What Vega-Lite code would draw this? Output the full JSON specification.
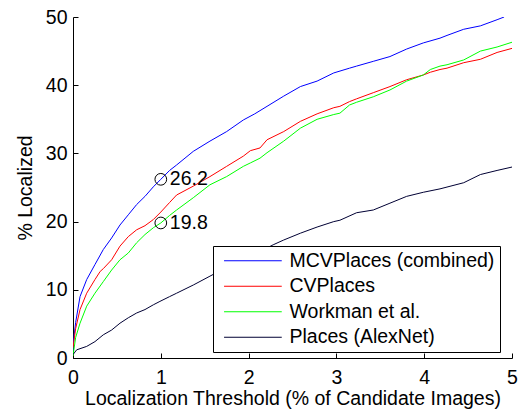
{
  "$schema": "https://vega.github.io/schema/vega-lite/v6.json",
  "width": 439,
  "height": 341,
  "autosize": {"type": "none"},
  "padding": {"left": 73, "top": 17, "right": 6, "bottom": 53},
  "background": "white",
  "config": {
    "font": "Liberation Sans",
    "view": {"stroke": null},
    "axis": {
      "grid": false,
      "domainColor": "black",
      "domainWidth": 1,
      "tickColor": "black",
      "tickWidth": 1,
      "tickSize": -5,
      "labelFlush": false,
      "labelFont": "Liberation Sans",
      "labelFontSize": 19.5,
      "labelColor": "black",
      "titleFont": "Liberation Sans",
      "titleFontSize": 19.5,
      "titleFontWeight": "normal",
      "titleColor": "black"
    }
  },
  "layer": [
    {
      "data": {"values": [
        {"x": 0, "y": 1.0, "s": "MCVPlaces (combined)"},
        {"x": 0.01, "y": 3.0, "s": "MCVPlaces (combined)"},
        {"x": 0.03, "y": 5.2, "s": "MCVPlaces (combined)"},
        {"x": 0.08, "y": 9.0, "s": "MCVPlaces (combined)"},
        {"x": 0.156, "y": 11.5, "s": "MCVPlaces (combined)"},
        {"x": 0.25, "y": 13.7, "s": "MCVPlaces (combined)"},
        {"x": 0.345, "y": 15.9, "s": "MCVPlaces (combined)"},
        {"x": 0.44, "y": 17.6, "s": "MCVPlaces (combined)"},
        {"x": 0.535, "y": 19.5, "s": "MCVPlaces (combined)"},
        {"x": 0.63, "y": 21.0, "s": "MCVPlaces (combined)"},
        {"x": 0.725, "y": 22.5, "s": "MCVPlaces (combined)"},
        {"x": 0.82, "y": 23.7, "s": "MCVPlaces (combined)"},
        {"x": 0.915, "y": 25.1, "s": "MCVPlaces (combined)"},
        {"x": 1.0, "y": 26.2, "s": "MCVPlaces (combined)"},
        {"x": 1.1, "y": 27.5, "s": "MCVPlaces (combined)"},
        {"x": 1.18, "y": 28.3, "s": "MCVPlaces (combined)"},
        {"x": 1.37, "y": 30.3, "s": "MCVPlaces (combined)"},
        {"x": 1.56, "y": 31.8, "s": "MCVPlaces (combined)"},
        {"x": 1.75, "y": 33.2, "s": "MCVPlaces (combined)"},
        {"x": 1.94, "y": 34.9, "s": "MCVPlaces (combined)"},
        {"x": 2.07, "y": 35.8, "s": "MCVPlaces (combined)"},
        {"x": 2.21, "y": 36.9, "s": "MCVPlaces (combined)"},
        {"x": 2.40, "y": 38.4, "s": "MCVPlaces (combined)"},
        {"x": 2.59, "y": 39.8, "s": "MCVPlaces (combined)"},
        {"x": 2.78, "y": 40.6, "s": "MCVPlaces (combined)"},
        {"x": 2.97, "y": 41.8, "s": "MCVPlaces (combined)"},
        {"x": 3.15, "y": 42.5, "s": "MCVPlaces (combined)"},
        {"x": 3.23, "y": 42.8, "s": "MCVPlaces (combined)"},
        {"x": 3.42, "y": 43.5, "s": "MCVPlaces (combined)"},
        {"x": 3.61, "y": 44.2, "s": "MCVPlaces (combined)"},
        {"x": 3.80, "y": 45.3, "s": "MCVPlaces (combined)"},
        {"x": 3.99, "y": 46.2, "s": "MCVPlaces (combined)"},
        {"x": 4.18, "y": 46.9, "s": "MCVPlaces (combined)"},
        {"x": 4.26, "y": 47.3, "s": "MCVPlaces (combined)"},
        {"x": 4.45, "y": 48.2, "s": "MCVPlaces (combined)"},
        {"x": 4.64, "y": 48.7, "s": "MCVPlaces (combined)"},
        {"x": 4.83, "y": 49.6, "s": "MCVPlaces (combined)"},
        {"x": 4.91, "y": 50.0, "s": "MCVPlaces (combined)"},

        {"x": 0, "y": 1.5, "s": "CVPlaces"},
        {"x": 0.03, "y": 4.3, "s": "CVPlaces"},
        {"x": 0.08, "y": 7.1, "s": "CVPlaces"},
        {"x": 0.156, "y": 9.5, "s": "CVPlaces"},
        {"x": 0.25, "y": 11.5, "s": "CVPlaces"},
        {"x": 0.31, "y": 12.7, "s": "CVPlaces"},
        {"x": 0.345, "y": 13.1, "s": "CVPlaces"},
        {"x": 0.44, "y": 14.4, "s": "CVPlaces"},
        {"x": 0.535, "y": 16.4, "s": "CVPlaces"},
        {"x": 0.63, "y": 17.8, "s": "CVPlaces"},
        {"x": 0.725, "y": 18.8, "s": "CVPlaces"},
        {"x": 0.82, "y": 19.4, "s": "CVPlaces"},
        {"x": 0.915, "y": 20.3, "s": "CVPlaces"},
        {"x": 1.0, "y": 21.4, "s": "CVPlaces"},
        {"x": 1.1, "y": 22.8, "s": "CVPlaces"},
        {"x": 1.18, "y": 23.9, "s": "CVPlaces"},
        {"x": 1.37, "y": 25.2, "s": "CVPlaces"},
        {"x": 1.56, "y": 26.6, "s": "CVPlaces"},
        {"x": 1.75, "y": 28.1, "s": "CVPlaces"},
        {"x": 1.94, "y": 29.6, "s": "CVPlaces"},
        {"x": 2.02, "y": 30.4, "s": "CVPlaces"},
        {"x": 2.13, "y": 30.8, "s": "CVPlaces"},
        {"x": 2.21, "y": 32.0, "s": "CVPlaces"},
        {"x": 2.40, "y": 33.2, "s": "CVPlaces"},
        {"x": 2.59, "y": 34.7, "s": "CVPlaces"},
        {"x": 2.78, "y": 35.8, "s": "CVPlaces"},
        {"x": 2.97, "y": 36.7, "s": "CVPlaces"},
        {"x": 3.04, "y": 36.9, "s": "CVPlaces"},
        {"x": 3.15, "y": 37.6, "s": "CVPlaces"},
        {"x": 3.23, "y": 38.0, "s": "CVPlaces"},
        {"x": 3.42, "y": 38.9, "s": "CVPlaces"},
        {"x": 3.61, "y": 39.8, "s": "CVPlaces"},
        {"x": 3.80, "y": 40.8, "s": "CVPlaces"},
        {"x": 3.99, "y": 41.5, "s": "CVPlaces"},
        {"x": 4.07, "y": 41.9, "s": "CVPlaces"},
        {"x": 4.18, "y": 42.3, "s": "CVPlaces"},
        {"x": 4.26, "y": 42.5, "s": "CVPlaces"},
        {"x": 4.45, "y": 43.3, "s": "CVPlaces"},
        {"x": 4.64, "y": 43.8, "s": "CVPlaces"},
        {"x": 4.83, "y": 44.8, "s": "CVPlaces"},
        {"x": 5.0, "y": 45.4, "s": "CVPlaces"},

        {"x": 0, "y": 0.3, "s": "Workman et al."},
        {"x": 0.03, "y": 3.0, "s": "Workman et al."},
        {"x": 0.08, "y": 5.1, "s": "Workman et al."},
        {"x": 0.156, "y": 7.6, "s": "Workman et al."},
        {"x": 0.25, "y": 9.5, "s": "Workman et al."},
        {"x": 0.345, "y": 11.2, "s": "Workman et al."},
        {"x": 0.44, "y": 12.9, "s": "Workman et al."},
        {"x": 0.535, "y": 14.4, "s": "Workman et al."},
        {"x": 0.63, "y": 15.4, "s": "Workman et al."},
        {"x": 0.725, "y": 16.9, "s": "Workman et al."},
        {"x": 0.82, "y": 18.1, "s": "Workman et al."},
        {"x": 0.915, "y": 19.1, "s": "Workman et al."},
        {"x": 1.0, "y": 19.8, "s": "Workman et al."},
        {"x": 1.1, "y": 20.9, "s": "Workman et al."},
        {"x": 1.18, "y": 21.7, "s": "Workman et al."},
        {"x": 1.37, "y": 23.5, "s": "Workman et al."},
        {"x": 1.56, "y": 25.4, "s": "Workman et al."},
        {"x": 1.75, "y": 26.6, "s": "Workman et al."},
        {"x": 1.94, "y": 28.1, "s": "Workman et al."},
        {"x": 2.02, "y": 28.6, "s": "Workman et al."},
        {"x": 2.13, "y": 29.3, "s": "Workman et al."},
        {"x": 2.21, "y": 30.1, "s": "Workman et al."},
        {"x": 2.40, "y": 31.8, "s": "Workman et al."},
        {"x": 2.59, "y": 33.7, "s": "Workman et al."},
        {"x": 2.78, "y": 35.0, "s": "Workman et al."},
        {"x": 2.97, "y": 35.7, "s": "Workman et al."},
        {"x": 3.04, "y": 35.9, "s": "Workman et al."},
        {"x": 3.15, "y": 37.1, "s": "Workman et al."},
        {"x": 3.23, "y": 37.5, "s": "Workman et al."},
        {"x": 3.42, "y": 38.3, "s": "Workman et al."},
        {"x": 3.61, "y": 39.3, "s": "Workman et al."},
        {"x": 3.80, "y": 40.6, "s": "Workman et al."},
        {"x": 3.99, "y": 41.5, "s": "Workman et al."},
        {"x": 4.07, "y": 42.3, "s": "Workman et al."},
        {"x": 4.18, "y": 42.8, "s": "Workman et al."},
        {"x": 4.26, "y": 43.0, "s": "Workman et al."},
        {"x": 4.45, "y": 43.7, "s": "Workman et al."},
        {"x": 4.64, "y": 45.0, "s": "Workman et al."},
        {"x": 4.83, "y": 45.6, "s": "Workman et al."},
        {"x": 5.0, "y": 46.3, "s": "Workman et al."},

        {"x": 0, "y": 0.5, "s": "Places (AlexNet)"},
        {"x": 0.042, "y": 1.2, "s": "Places (AlexNet)"},
        {"x": 0.156, "y": 1.7, "s": "Places (AlexNet)"},
        {"x": 0.25, "y": 2.4, "s": "Places (AlexNet)"},
        {"x": 0.345, "y": 3.4, "s": "Places (AlexNet)"},
        {"x": 0.44, "y": 4.1, "s": "Places (AlexNet)"},
        {"x": 0.535, "y": 5.1, "s": "Places (AlexNet)"},
        {"x": 0.63, "y": 5.9, "s": "Places (AlexNet)"},
        {"x": 0.725, "y": 6.6, "s": "Places (AlexNet)"},
        {"x": 0.82, "y": 7.1, "s": "Places (AlexNet)"},
        {"x": 0.915, "y": 7.8, "s": "Places (AlexNet)"},
        {"x": 0.99, "y": 8.3, "s": "Places (AlexNet)"},
        {"x": 1.1, "y": 9.0, "s": "Places (AlexNet)"},
        {"x": 1.18, "y": 9.5, "s": "Places (AlexNet)"},
        {"x": 1.37, "y": 10.7, "s": "Places (AlexNet)"},
        {"x": 1.56, "y": 12.0, "s": "Places (AlexNet)"},
        {"x": 1.75, "y": 13.3, "s": "Places (AlexNet)"},
        {"x": 1.94, "y": 14.5, "s": "Places (AlexNet)"},
        {"x": 2.13, "y": 15.6, "s": "Places (AlexNet)"},
        {"x": 2.28, "y": 16.6, "s": "Places (AlexNet)"},
        {"x": 2.40, "y": 17.3, "s": "Places (AlexNet)"},
        {"x": 2.59, "y": 18.3, "s": "Places (AlexNet)"},
        {"x": 2.78, "y": 19.2, "s": "Places (AlexNet)"},
        {"x": 2.97, "y": 20.0, "s": "Places (AlexNet)"},
        {"x": 3.04, "y": 20.2, "s": "Places (AlexNet)"},
        {"x": 3.23, "y": 21.3, "s": "Places (AlexNet)"},
        {"x": 3.42, "y": 21.7, "s": "Places (AlexNet)"},
        {"x": 3.61, "y": 22.7, "s": "Places (AlexNet)"},
        {"x": 3.80, "y": 23.7, "s": "Places (AlexNet)"},
        {"x": 3.99, "y": 24.3, "s": "Places (AlexNet)"},
        {"x": 4.18, "y": 24.8, "s": "Places (AlexNet)"},
        {"x": 4.45, "y": 25.7, "s": "Places (AlexNet)"},
        {"x": 4.64, "y": 26.9, "s": "Places (AlexNet)"},
        {"x": 4.83, "y": 27.5, "s": "Places (AlexNet)"},
        {"x": 5.0, "y": 28.0, "s": "Places (AlexNet)"}
      ]},
      "mark": {"type": "line", "strokeWidth": 1, "clip": true},
      "encoding": {
        "x": {"field": "x", "type": "quantitative",
              "scale": {"domain": [0, 5], "nice": false, "zero": false},
              "axis": {"values": [0, 1, 2, 3, 4, 5], "format": "d", "title": "Localization Threshold (% of Candidate Images)", "labelPadding": 15, "titlePadding": 3}},
        "y": {"field": "y", "type": "quantitative",
              "scale": {"domain": [0, 50], "nice": false},
              "axis": {"values": [0, 10, 20, 30, 40, 50], "format": "d", "title": "% Localized", "labelPadding": 11, "titlePadding": 10}},
        "color": {"field": "s", "type": "nominal",
                  "scale": {"domain": ["MCVPlaces (combined)", "CVPlaces", "Workman et al.", "Places (AlexNet)"],
                            "range": ["#0000ff", "#ff0000", "#00ff00", "#000033"]},
                  "legend": {
                    "title": null,
                    "orient": "none",
                    "legendX": 140,
                    "legendY": 229,
                    "fillColor": "white",
                    "strokeColor": "black",
                    "padding": 5,
                    "cornerRadius": 0,
                    "symbolType": "M-0.74,0H10.8",
                    "symbolSize": 100,
                    "symbolStrokeWidth": 1,
                    "symbolFillColor": "transparent",
                    "labelFont": "Liberation Sans",
                    "labelFontSize": 19.5,
                    "labelColor": "black",
                    "labelLimit": 0,
                    "labelOffset": 52,
                    "labelExpr": "datum.label + '\u00a0\u00a0\u00a0\u00a0'",
                    "rowPadding": 4.5
                  }}
      }
    },
    {
      "data": {"values": [
        {"x": 1, "y": 26.2, "label": "26.2"},
        {"x": 1, "y": 19.8, "label": "19.8"}
      ]},
      "layer": [
        {
          "mark": {"type": "point", "shape": "circle", "filled": false, "stroke": "black", "strokeWidth": 1, "size": 137, "opacity": 1},
          "encoding": {
            "x": {"field": "x", "type": "quantitative"},
            "y": {"field": "y", "type": "quantitative"}
          }
        },
        {
          "mark": {"type": "text", "align": "left", "baseline": "middle", "dx": 9, "font": "Liberation Sans", "fontSize": 19.5, "color": "black"},
          "encoding": {
            "x": {"field": "x", "type": "quantitative"},
            "y": {"field": "y", "type": "quantitative"},
            "text": {"field": "label"}
          }
        }
      ]
    }
  ]
}
